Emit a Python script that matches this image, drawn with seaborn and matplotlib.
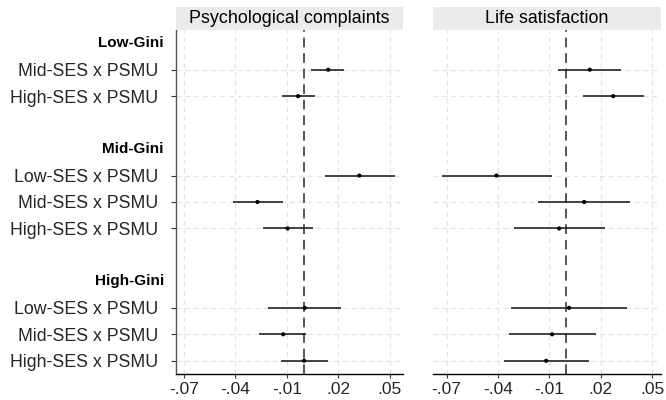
import numpy as np
import pandas as pd
import matplotlib
matplotlib.use("Agg")
import matplotlib.pyplot as plt
import matplotlib.transforms as mtransforms
import seaborn as sns

sns.set_theme(style="white")
plt.rcParams['font.family'] = ['Liberation Sans', 'DejaVu Sans']

# --- data ---
groups = ["Low-Gini", "Mid-Gini", "High-Gini"]
row_group = ["Low-Gini", "Low-Gini",
             "Mid-Gini", "Mid-Gini", "Mid-Gini",
             "High-Gini", "High-Gini", "High-Gini"]
row_labels = ["Mid-SES x PSMU", "High-SES x PSMU",
              "Low-SES x PSMU", "Mid-SES x PSMU", "High-SES x PSMU",
              "Low-SES x PSMU", "Mid-SES x PSMU", "High-SES x PSMU"]

psych_est = [0.0140, -0.0035, 0.0322, -0.0272, -0.0096, 0.0004, -0.0122, 0.0000]
psych_lo = [0.0038, -0.0128, 0.0120, -0.0416, -0.0241, -0.0210, -0.0262, -0.0134]
psych_hi = [0.0235, 0.0066, 0.0528, -0.0122, 0.0050, 0.0217, 0.0010, 0.0137]

life_est = [0.0136, 0.0273, -0.0409, 0.0103, -0.0043, 0.0015, -0.0084, -0.0119]
life_lo = [-0.0047, 0.0095, -0.0729, -0.0164, -0.0306, -0.0322, -0.0333, -0.0365]
life_hi = [0.0318, 0.0454, -0.0086, 0.0372, 0.0224, 0.0353, 0.0170, 0.0130]

panel_titles = ["Psychological complaints", "Life satisfaction"]
xtick_values = [-0.07, -0.04, -0.01, 0.02, 0.05]
xtick_labels = ["-.07", "-.04", "-.01", ".02", ".05"]

# --- row positions: header row per group, then its rows, blank row between groups ---
header_pos = {}
row_pos = []
p = 0
for g in groups:
    header_pos[g] = p
    p += 1
    for rg in row_group:
        if rg == g:
            row_pos.append(p)
            p += 1
    p += 1
n_pos = p - 1

df = pd.DataFrame({"label": row_labels, "group": row_group, "pos": row_pos,
                   "psych_est": psych_est, "psych_lo": psych_lo, "psych_hi": psych_hi,
                   "life_est": life_est, "life_lo": life_lo, "life_hi": life_hi})

fig = plt.figure(figsize=(6.66, 4.0), dpi=100)
fig.patch.set_facecolor('white')

ax_l = fig.add_axes([0.2638, 0.065, 0.3408, 0.86])
ax_r = fig.add_axes([0.6506, 0.065, 0.3419, 0.86])
panels = [(ax_l, "psych", (-0.0748, 0.0574)), (ax_r, "life", (-0.0778, 0.0552))]

for i, (ax, key, xlim) in enumerate(panels):
    ax.set_xlim(*xlim)
    ax.set_ylim(n_pos - 1 + 0.5, -0.5)

    # grid
    for xv in xtick_values:
        ax.axvline(xv, color='#e4e4e4', lw=0.9, ls=(0, (4, 3)), zorder=0)
    for yv in df['pos']:
        ax.axhline(yv, color='#e4e4e4', lw=0.9, ls=(0, (4, 3)), zorder=0)

    ax.axvline(0, color='#555555', lw=1.4, ls=(0, (5, 3)), zorder=1)

    ax.hlines(df['pos'], df[key + '_lo'], df[key + '_hi'], color='#222222', lw=1.2, zorder=2)
    sns.scatterplot(data=df, x=key + '_est', y='pos', ax=ax, color='black', s=9,
                    edgecolor='none', zorder=3, legend=False)
    ax.set_xlabel('')
    ax.set_ylabel('')

    ax.set_xticks(xtick_values)
    ax.set_xticklabels(xtick_labels, fontsize=12.5)
    ax.tick_params(axis='x', length=2.9, width=0.8, color='#333333', pad=2.5, bottom=True)

    for s in ['top', 'right']:
        ax.spines[s].set_visible(False)
    ax.spines['bottom'].set_color('black')
    ax.spines['bottom'].set_linewidth(1.0)

    if i == 0:
        ax.set_yticks(df['pos'])
        ax.set_yticklabels(df['label'], fontsize=12.8)
        ax.tick_params(axis='y', length=3.6, width=0.8, color='#333333', pad=9.1, left=True)
        ax.spines['left'].set_color('#555555')
        ax.spines['left'].set_linewidth(1.0)
        trans = mtransforms.blended_transform_factory(ax.transAxes, ax.transData)
        for g in groups:
            ax.text(-11.7 / 227, header_pos[g], g, transform=trans, ha='right', va='center',
                    fontsize=11, fontweight='bold', color='black')
    else:
        ax.set_yticks([])
        ax.spines['left'].set_visible(False)

    # strip title
    pos = ax.get_position()
    sax = fig.add_axes([pos.x0, 1 - 29.5 / 400, pos.width, 22.5 / 400])
    sax.set_facecolor('#ebebeb')
    sax.set_xticks([])
    sax.set_yticks([])
    for s in sax.spines.values():
        s.set_visible(False)
    sax.text(0.5, 0.5, panel_titles[i], ha='center', va='center', fontsize=12.9,
             transform=sax.transAxes, color='black')

fig.savefig('out.png', dpi=100)
